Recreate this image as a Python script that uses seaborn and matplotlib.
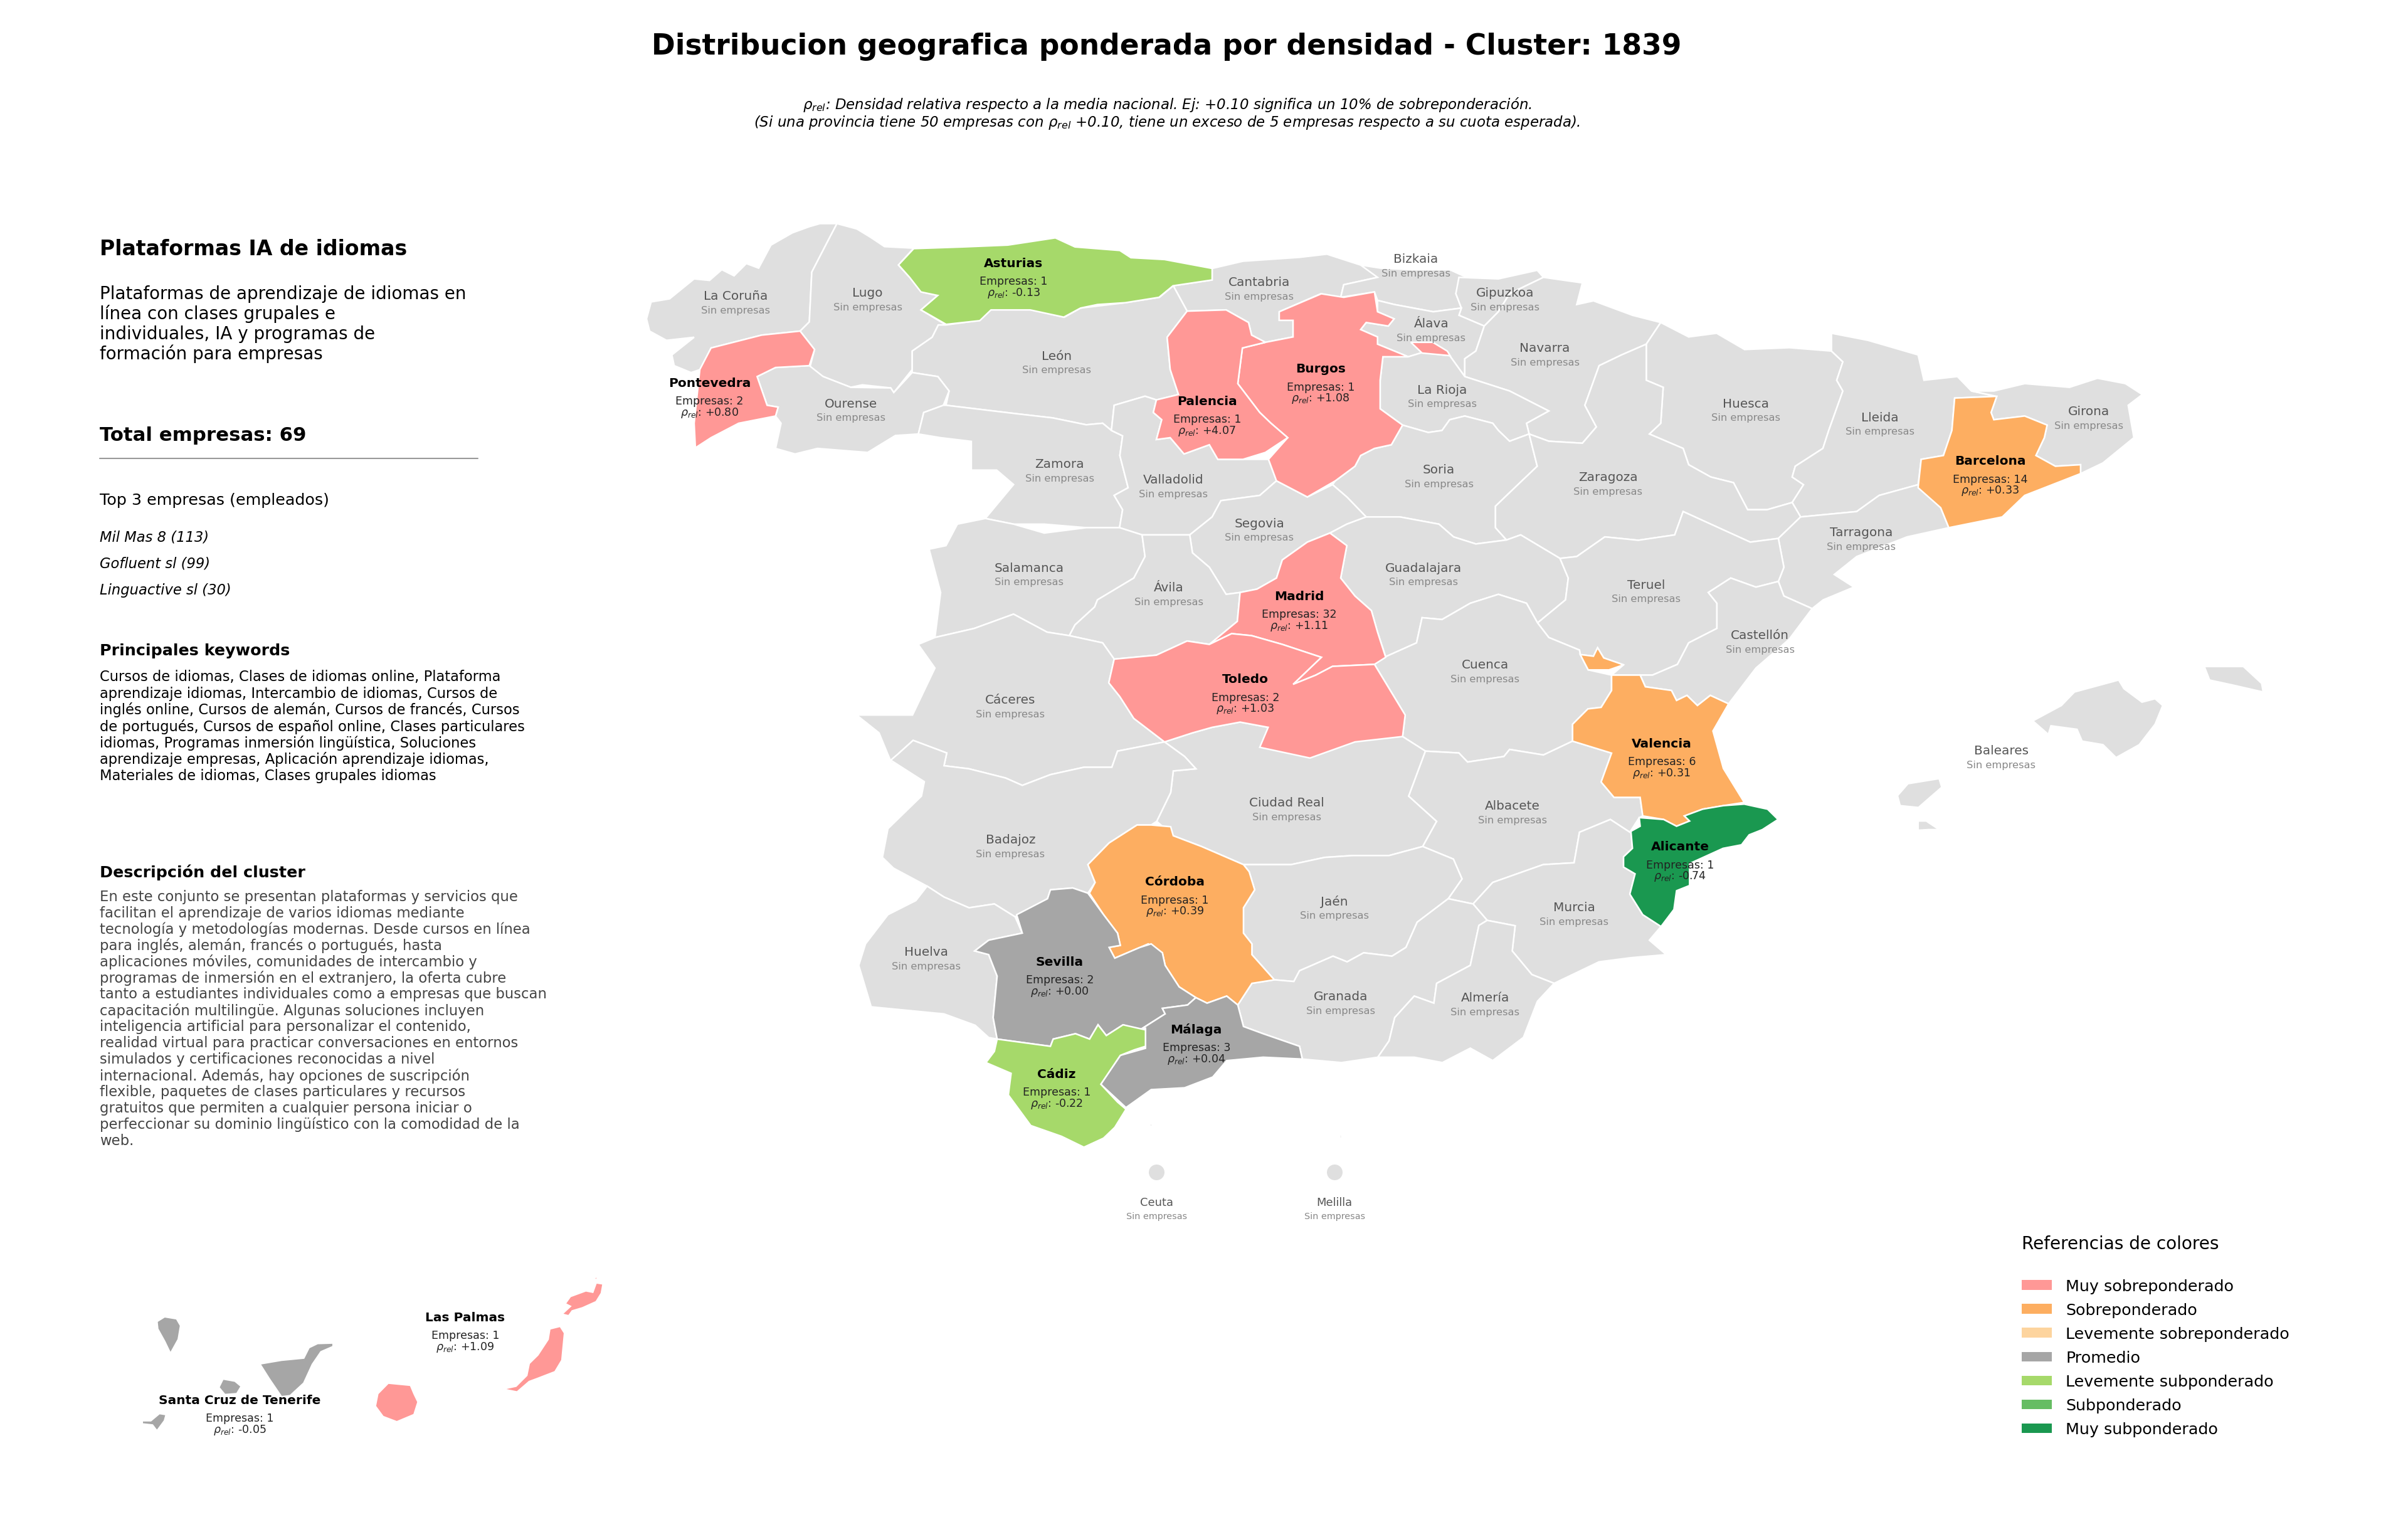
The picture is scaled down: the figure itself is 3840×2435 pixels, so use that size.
import matplotlib
matplotlib.use("Agg")
import matplotlib.pyplot as plt
from matplotlib.patches import Patch
import pandas as pd
import seaborn as sns

# ---------------------------------------------------------------- text
TITLE = "Distribucion geografica ponderada por densidad - Cluster: 1839"
SUBTITLE = [r"$\rho_{rel}$: Densidad relativa respecto a la media nacional. Ej: +0.10 significa un 10% de sobreponderación.",
            r"(Si una provincia tiene 50 empresas con $\rho_{rel}$ +0.10, tiene un exceso de 5 empresas respecto a su cuota esperada)."]
CLUSTER_NAME = "Plataformas IA de idiomas"
CLUSTER_TAG = ["Plataformas de aprendizaje de idiomas en", "línea con clases grupales e",
               "individuales, IA y programas de", "formación para empresas"]
TOTAL = "Total empresas: 69"
TOP_HEAD = "Top 3 empresas (empleados)"
TOP_COMPANIES = ["Mil Mas 8 (113)", "Gofluent sl (99)", "Linguactive sl (30)"]
KEY_HEAD = "Principales keywords"
KEYWORDS = ["Cursos de idiomas, Clases de idiomas online, Plataforma",
            "aprendizaje idiomas, Intercambio de idiomas, Cursos de",
            "inglés online, Cursos de alemán, Cursos de francés, Cursos",
            "de portugués, Cursos de español online, Clases particulares",
            "idiomas, Programas inmersión lingüística, Soluciones",
            "aprendizaje empresas, Aplicación aprendizaje idiomas,",
            "Materiales de idiomas, Clases grupales idiomas"]
DESC_HEAD = "Descripción del cluster"
DESCRIPTION = ["En este conjunto se presentan plataformas y servicios que",
               "facilitan el aprendizaje de varios idiomas mediante",
               "tecnología y metodologías modernas. Desde cursos en línea",
               "para inglés, alemán, francés o portugués, hasta",
               "aplicaciones móviles, comunidades de intercambio y",
               "programas de inmersión en el extranjero, la oferta cubre",
               "tanto a estudiantes individuales como a empresas que buscan",
               "capacitación multilingüe. Algunas soluciones incluyen",
               "inteligencia artificial para personalizar el contenido,",
               "realidad virtual para practicar conversaciones en entornos",
               "simulados y certificaciones reconocidas a nivel",
               "internacional. Además, hay opciones de suscripción",
               "flexible, paquetes de clases particulares y recursos",
               "gratuitos que permiten a cualquier persona iniciar o",
               "perfeccionar su dominio lingüístico con la comodidad de la",
               "web."]

# ---------------------------------------------------------------- categories
CATEGORY_LABELS = ["Muy sobreponderado", "Sobreponderado", "Levemente sobreponderado", "Promedio",
                   "Levemente subponderado", "Subponderado", "Muy subponderado"]
CATEGORY_COLORS = ["#ff9896", "#fdae61", "#fdd49e", "#a6a6a6", "#a6d96a", "#66bd63", "#1a9850"]
LAND_COLOR = "#dfdfdf"
RHO_BINS = [-100, -0.5, -0.25, -0.1, 0.1, 0.25, 0.5, 100]

# ---------------------------------------------------------------- provinces with companies
ACTIVE_NAMES = ["Asturias", "Pontevedra", "Burgos", "Palencia", "Madrid", "Toledo", "Barcelona", "Valencia",
                "Alicante", "Córdoba", "Sevilla", "Málaga", "Cádiz", "Las Palmas", "Santa Cruz de Tenerife"]
ACTIVE_COUNTS = [1, 2, 1, 1, 32, 2, 14, 6, 1, 1, 2, 3, 1, 1, 1]
ACTIVE_RHO = [-0.13, 0.80, 1.08, 4.07, 1.11, 1.03, 0.33, 0.31, -0.74, 0.39, 0.00, 0.04, -0.22, 1.09, -0.05]
ACTIVE_X = [660, 462, 860, 786, 846, 811, 1296, 1082, 1094, 765, 690, 779, 688, 303, 156]
ACTIVE_Y = [171.5, 249.5, 240.5, 261.5, 388.5, 442.5, 300.5, 484.5, 551.5, 574.5, 626.5, 670.5, 699.5, 858, 912]

# ---------------------------------------------------------------- provinces without companies
EMPTY_NAMES = ["La Coruña", "Lugo", "Cantabria", "Bizkaia", "Gipuzkoa", "Álava", "Navarra", "León", "La Rioja",
               "Huesca", "Lleida", "Girona", "Ourense", "Zamora", "Soria", "Zaragoza", "Valladolid", "Segovia",
               "Tarragona", "Salamanca", "Guadalajara", "Ávila", "Teruel", "Castellón", "Cuenca", "Cáceres",
               "Baleares", "Ciudad Real", "Albacete", "Badajoz", "Jaén", "Murcia", "Huelva", "Granada", "Almería",
               "Ceuta", "Melilla"]
EMPTY_X = [479, 565, 820, 922, 980, 932, 1006, 688, 939, 1137, 1224, 1360, 554, 690, 937, 1047, 764, 820,
           1212, 670, 927, 761, 1072, 1146, 967, 658, 1303, 838, 985, 658, 869, 1025, 603, 873, 967, 753, 869]
EMPTY_Y = [193, 191, 184, 169, 191, 211, 227, 232, 254, 263, 272, 268, 263, 302.5, 306, 311, 312.5, 341, 347, 370,
           370, 383, 381, 414, 433, 456, 489, 523, 525, 547, 587, 591, 620, 649, 650, 783, 783]
SMALL_LABELS = ["Ceuta", "Melilla"]

# exclaves drawn as round markers
CITY_NAMES = ["Ceuta", "Melilla"]
CITY_X = [753, 869]
CITY_Y = [763.5, 763.5]

# ---------------------------------------------------------------- outlines
SHAPES = {
 "La Coruña": [[(421,208),(424,197),(436,195),(452,182),(462,183),(470,176),(478,180),(486,172),(494,175),(502,160),(516,152),(527,148),(534,146),(545,146),(539.5,156.5),(528.6,177.6),(527,210),(521,216),(496,218.6),(463,227),(456,241),(450,243),(439,238.5),(437.5,231.5),(452,220),(434,222),(423,216)]],
 "Lugo": [[(545,146),(558,149.5),(567,155),(576,161),(595,162),(585,173),(592.4,181),(600,190.5),(610.6,192.8),(599.7,202.2),(616,212),(611,212),(607,220),(594,229),(594,241),(582,256),(580,253),(561.5,251),(554,252.6),(536,245.6),(527,241),(530.4,228),(521,216),(527,210),(528.6,177.6),(539.5,156.5)]],
 "Ourense": [[(493,245.6),(505,239.7),(527,238.5),(536,245.6),(554,252.6),(580,253),(582,256),(594,243),(610.7,245.6),(618,255),(614.3,264.3),(601.5,269),(598,283),(583,284),(565,295),(532.3,292.4),(517.7,296),(505,292.4),(508.6,276),(505,271.3),(506.7,265.5),(499.5,264.3)]],
 "León": [[(611,212),(616,212),(638,209),(645,202),(671,202),(693,207),(703.6,201),(733,197.5),(755,194),(764,186.5),(773,203),(760,220),(762,241),(767.4,257.3),(753,260.8),(745.6,258.4),(725.5,264.3),(723.7,280.7),(718,276),(707.3,277),(685.4,272.5),(663.5,270),(616,264.3),(618,255),(610.7,245.6),(594,243),(594,229),(607,220)]],
 "Cantabria": [[(789.3,175.2),(809.4,170.5),(846,168),(864,165.9),(886,173),(898.7,175),(897,181),(875,185.8),(873,194),(860,191.7),(833,203.4),(833,209),(842,209),(842,219.8),(824,223.3),(815,218.6),(813,210.4),(798.4,202.2),(773,203),(764,186.5),(789.3,182.7)]],
 "Bizkaia": [[(886,173),(899,175),(919,176),(944,176),(955,181),(948,191.6),(951.6,201),(933.3,203.4),(908,198.7),(897,196),(895,190.5),(873,194),(875,185.8),(897,181)]],
 "Gipuzkoa": [[(950,181),(975.7,182),(1001,176.4),(1005,181),(983,191.6),(975.7,203.4),(966.5,212.7),(950,205.7),(951.6,201),(948,191.6)]],
 "Álava": [[(897,196),(908,198.7),(933.3,203.4),(951.6,201),(950,205.7),(966.5,212.7),(961,229),(953.8,234),(953.8,245.6),(944,232),(926,230),(917,232.7),(897,224.5),(897,219.8),(886,215),(889.6,210.4),(904,212.7),(907.8,208),(897,203.4)]],
 "La Rioja": [[(900.5,232.7),(917,232.7),(926,230),(944,232),(953.8,245.6),(983,255),(1008.5,268),(994,276),(995.7,283),(983,287.7),(975.7,280.7),(972,276),(953.8,271.3),(944,273.7),(939,280.7),(930,282),(913.3,277.2),(898.7,266.6),(898.7,248)]],
 "Navarra": [[(1005,181),(1030.4,184.6),(1026.7,198.7),(1037.6,196.3),(1063,205.7),(1081.4,210.4),(1072,224.5),(1055.9,231.5),(1041.3,238.5),(1032,264.3),(1039.5,278.4),(1030.4,289),(1008.5,287.7),(995.7,283),(994,276),(1008.5,268),(983,255),(953.8,245.6),(953.8,234),(961,229),(966.5,212.7),(975.7,203.4),(983,191.6)]],
 "Huesca": [[(1081.4,210.4),(1099.6,219.8),(1117.8,217.4),(1136,228),(1165.2,226.8),(1192.6,229),(1200,236),(1196,248),(1200,255),(1190.8,280.7),(1187,292.4),(1169,304),(1167,311),(1174.4,316),(1167,327.6),(1150.7,332.3),(1138,332.3),(1128.8,314.7),(1114,311),(1099.6,303),(1096,292.4),(1074,283),(1081.4,276),(1083,252.6),(1072,248),(1072,224.5)]],
 "Lleida": [[(1192.6,217.4),(1216.3,222),(1249,231.5),(1252.8,248),(1274.6,245.6),(1283.7,255),(1300,258.5),(1272.8,259.6),(1271,280.7),(1265.5,297),(1251,299.5),(1249,316),(1223.6,323),(1209,333.5),(1172.5,337),(1167,327.6),(1174.4,316),(1167,311),(1169,304),(1187,292.4),(1190.8,280.7),(1200,255),(1196,248),(1200,236),(1192.6,229)]],
 "Girona": [[(1283.7,255),(1298.3,255),(1318.4,250.2),(1347.6,252.6),(1365.8,246.7),(1384,250.2),(1395,257.3),(1385.8,264.3),(1389.5,285.4),(1369.4,301.8),(1354.8,308.8),(1354.8,303),(1338.4,304),(1325.7,297),(1331.2,285.4),(1333,277.2),(1318.4,271.3),(1298.3,273.7),(1296.5,269),(1300.2,258.5)]],
 "Zaragoza": [[(1030.4,289),(1039.5,278.4),(1032,264.3),(1041.3,238.5),(1055.9,231.5),(1072,224.5),(1072,248),(1083,252.6),(1081.4,276),(1074,283),(1096,292.4),(1099.6,303),(1114,311),(1128.8,314.7),(1138,332.3),(1150.7,332.3),(1167,327.6),(1172.5,337),(1158,351),(1139.7,353.4),(1114,341.7),(1096,333.5),(1090.5,348.7),(1066.8,352.2),(1045,350),(1026.7,362.8),(1015.8,364),(990.2,348.7),(981,352),(973.8,344),(973.8,330),(988.4,316),(1001,304),(995.7,283),(1008.5,287.7)]],
 "Soria": [[(913.3,277.2),(930,282),(939,280.7),(944,273.7),(953.8,271.3),(972,276),(975.7,280.7),(983,287.7),(995.7,283),(1001,304),(988.4,316),(973.8,330),(973.8,344),(981,352),(961,354.6),(946.5,350),(937,341.7),(911.5,337),(889.6,337),(877,324),(867.7,316),(869.5,313.5),(882.3,304),(886,297),(895,292.4),(906,290)]],
 "Valladolid": [[(725.5,264.3),(745.6,258.4),(753,260.8),(751,269),(756.5,273.7),(753,286.6),(762,285.4),(771,296),(787.5,290),(793,299.5),(809.4,299.5),(826,299.5),(831.2,313.5),(820.3,323),(795,326.4),(789.3,337),(774.7,348.7),(743.7,348.7),(729,344),(731,332.3),(725.5,323),(734.6,318),(729.2,297),(731,284.2),(723.7,280.7)]],
 "Zamora": [[(616,264.3),(663.5,270),(685.4,272.5),(707.3,277),(718,276),(723.7,280.7),(731,284.2),(729.2,297),(734.6,318),(725.5,323),(731,332.3),(729,344),(707.3,344),(680,341.7),(660,341.7),(641.6,338),(660,315.9),(649,306.5),(632.5,306.5),(632.5,287.8),(612.5,285.4),(598,283),(601.5,269),(614.3,264.3)]],
 "Salamanca": [[(641.6,338),(660,341.7),(680,347.5),(707.3,344),(729,344),(743.7,348.7),(745.6,362.8),(738.3,376.8),(714.6,391),(712.8,395.6),(700,407.3),(696.3,414.3),(681.8,412),(660,400.3),(634.4,409.6),(608.8,415.5),(612.5,386.2),(605,358),(616,355.7),(623.4,341.7)]],
 "Ávila": [[(743.7,348.7),(774.7,348.7),(776.5,360.4),(787.5,369.8),(798.4,387.4),(807.5,386.2),(805.7,405),(787.5,420),(773,417.8),(753,427),(725.5,429.6),(718,419),(696.3,414.3),(700,407.3),(712.8,395.6),(714.6,391),(738.3,376.8),(745.6,362.8)]],
 "Segovia": [[(774.7,348.7),(789.3,337),(795,326.4),(820.3,323),(831.2,313.5),(851.3,324),(867.7,316),(877,324),(889.6,337),(877,341.7),(866,347.5),(851.3,353.4),(835,365),(831.2,376.8),(818.5,384),(807.5,386.2),(798.4,387.4),(787.5,369.8),(776.5,360.4)]],
 "Guadalajara": [[(889.6,337),(911.5,337),(937,341.7),(946.5,350),(961,354.6),(981,352),(990.2,348.7),(1015.8,364),(1021.2,376.8),(1019.4,391),(1001.2,406),(994,393.2),(975.7,387.4),(957.4,393.2),(939,403.8),(926,402.6),(922.4,419),(902.3,428),(897,412),(893,398),(882.3,388.5),(873,376.8),(877,355.7),(866,347.5),(877,341.7)]],
 "Teruel": [[(1015.8,364),(1026.7,362.8),(1045,350),(1066.8,352.2),(1090.5,348.7),(1096,333.5),(1114,341.7),(1139.7,353.4),(1158,351),(1161.6,369.8),(1158,379),(1143.4,382.7),(1127,376.8),(1112.4,386.2),(1118,393.2),(1118,409.6),(1099.6,419),(1092.3,433),(1076,440),(1068,440),(1049.4,440),(1057.2,433.3),(1044.3,428.8),(1040.3,422.2),(1037.6,427.7),(1029,426.6),(1028.5,423.7),(1008.5,415.5),(1001.2,406),(1019.4,391),(1021.2,376.8)]],
 "Tarragona": [[(1172.5,337),(1209,333.5),(1223.6,323),(1249,316),(1263.7,331),(1269,344),(1241.8,350),(1209,362.8),(1194.4,374.5),(1207.2,382.7),(1187.2,391),(1180,396.7),(1161.6,388.5),(1158,379),(1161.6,369.8),(1158,351)]],
 "Castellón": [[(1158,379),(1161.6,388.5),(1180,396.7),(1165,416.7),(1143.4,435.4),(1125.6,458.7),(1113.7,453.2),(1105.3,459.8),(1098.5,453.2),(1091.7,456.5),(1088.4,450),(1071.4,447.6),(1068,440),(1076,440),(1092.3,433),(1099.6,419),(1118,409.6),(1118,393.2),(1112.4,386.2),(1127,376.8),(1143.4,382.7)]],
 "Cuenca": [[(902.3,428),(922.4,419),(926,402.6),(939,403.8),(957.4,393.2),(975.7,387.4),(994,393.2),(1001.2,406),(1008.5,415.5),(1028.5,423.7),(1029,426.6),(1034.2,436.6),(1049.4,440),(1049.4,450),(1042.6,461),(1034,462),(1024,472),(1024,483),(1005,492),(983,488.4),(979.3,493),(955.6,496.6),(950,490.7),(928.2,489.5),(913.3,480),(915,466),(895,433)]],
 "Cáceres": [[(608.8,415.5),(634.4,409.6),(660,400.3),(681.8,412),(696.3,414.3),(718,419),(725.5,429.6),(722,445),(729.2,454),(738.3,468.2),(758.3,483.5),(727.7,489.5),(724,500),(705.8,500),(684,504.8),(665.7,511.8),(654.8,507),(631,501),(614.7,499),(616.5,490.7),(594.6,482.5),(585.5,490.7),(580.8,498),(572.4,477.6),(557.8,466),(594.2,466),(608.8,435.4),(597.9,420)]],
 "Badajoz": [[(603.7,577.4),(614.7,584.5),(631,591.5),(647.5,589),(661,597.4),(682.1,585.6),(684,579.8),(698.5,578.6),(708.4,582),(713.1,575),(708.4,563.4),(722.2,549.3),(740.4,537.6),(749.6,537.6),(753.2,535.2),(762.3,516.5),(764,502.4),(778.7,501),(771.4,493),(758.3,483.5),(727.7,489.5),(724,500),(705.8,500),(684,504.8),(665.7,511.8),(654.8,507),(631,501),(614.7,499),(616.5,490.7),(594.6,482.5),(585.5,490.7),(580,495.4),(601.9,509.4),(600,518.8),(578.2,540),(574.6,558.7),(581.8,565.7)]],
 "Ciudad Real": [[(913.3,480),(895,476.6),(873.5,486),(851.7,493),(822.5,486),(825.8,474),(807.5,470.6),(789.3,474),(776.5,477.6),(758.3,483.5),(771.4,493),(778.7,501),(764,502.4),(762.3,516.5),(753.2,535.2),(764,544.6),(782.4,551.6),(809.7,563.4),(840.7,563.4),(862.6,558.7),(880.8,557.5),(904.5,557.5),(926.4,551.6),(935.5,535.2),(917.3,518.8),(928.2,489.5)]],
 "Albacete": [[(928.2,489.5),(950,490.7),(955.6,496.6),(979.3,493),(983,488.4),(1005,492),(1024,483),(1049.4,490.8),(1042.6,509.6),(1051,519.6),(1068,519.6),(1069.7,531.7),(1067.4,532.8),(1061.3,542.3),(1048.6,534),(1028.5,542.3),(1025,562.2),(1004.8,563.4),(972,575),(959.2,589),(943,585.6),(952,572.7),(946.4,559.8),(926.4,551.6),(935.5,535.2),(917.3,518.8)]],
 "Murcia": [[(1062,541.7),(1061.3,542.3),(1048.6,534),(1028.5,542.3),(1025,562.2),(1004.8,563.4),(972,575),(959.2,589),(968.4,599.7),(986.6,603.2),(984.7,619.6),(997.5,635),(1012,640.7),(1041.2,626.7),(1062,624),(1085,622),(1074,612.6),(1081.6,603.7),(1069.7,596),(1061.3,582.6),(1064.7,569.4),(1057.2,565),(1057.2,558.3),(1063,552.8)]],
 "Jaén": [[(809.7,563.4),(840.7,563.4),(862.6,558.7),(880.8,557.5),(904.5,557.5),(926.4,551.6),(946.4,559.8),(952,572.7),(943,585.6),(922.8,600.9),(915.5,617.3),(906.4,623),(888,620.8),(877.2,626.7),(868,623),(846.2,632.5),(842.5,639.5),(829.8,638.4),(815.2,622),(815.2,615),(809.7,608),(809.7,591.5),(817,579.8),(813.4,568)]],
 "Granada": [[(829.8,638.4),(842.5,639.5),(846.2,632.5),(868,623),(877.2,626.7),(888,620.8),(906.4,623),(915.5,617.3),(922.8,600.9),(943,585.6),(959.2,589),(968.4,599.7),(963,603),(957.4,629),(935.5,640.7),(933.7,653.6),(920.9,649),(908.2,663),(904.5,678.2),(897.2,688.8),(873.5,692.3),(848,690),(846.2,681.7),(822.5,673.5),(809.7,668.8),(806,654.8),(815.2,640.7)]],
 "Almería": [[(968.4,599.7),(986.6,603.2),(984.7,619.6),(997.5,635),(1012,640.7),(1001.1,652.4),(992,675.9),(972,691),(957.4,682.9),(939.2,692.3),(920.9,688.8),(897.2,688.8),(904.5,678.2),(908.2,663),(920.9,649),(933.7,653.6),(935.5,640.7),(957.4,629),(963,603)]],
 "Huelva": [[(603.7,577.4),(614.7,584.5),(631,591.5),(647.5,589),(661,597.4),(665.7,608),(643.8,612.6),(634.7,619.6),(643.8,622),(649.3,636),(646.7,663),(649.3,677),(643.8,676),(635,668),(614.7,660.6),(567.3,656),(559.2,629),(563.6,615),(578.2,596),(596.4,586.8)]],
 "Baleares": [[(1323.7,469.8),(1342.3,459.8),(1350.8,451),(1379.6,443.2),(1383,448.8),(1394.8,457.6),(1403.3,455.4),(1408.3,459.8),(1403.3,472),(1393,485.3),(1377.9,493.7),(1369.4,485.3),(1355.8,483),(1352.5,475.3),(1335.5,473),(1333.8,478.6)],
              [(1435.4,434.4),(1460.8,434.4),(1472.7,445.4),(1473.7,451),(1454,446.5),(1438.8,443.2)],
              [(1235.6,518.5),(1242.4,510.7),(1262.7,507.4),(1264.4,513),(1249.2,526.2),(1237.3,525)],
              [(1249,535),(1254.3,535),(1262.7,540.6),(1256,540.6),(1249,541)]],
 "Ceuta": [[(748.5,732),(750.5,732.5),(750,734),(748.8,733.5)]],
 "Melilla": [[(872,739),(873.5,739),(873.5,741.5),(872,741.5)]],
 "Asturias": [[(585.1,172.9),(595,162.3),(627,161.2),(656.2,160),(687.2,155.3),(700,161.2),(729.2,163.5),(736.4,168.2),(758.3,169.4),(789.3,175.2),(789.3,182.7),(763.8,186.5),(754.7,194),(732.8,197.5),(714.6,198.7),(703.6,201),(692.7,206.9),(670.8,202.2),(645.3,202.2),(638,209.2),(616.1,211.6),(599.7,202.2),(610.6,192.8),(599.7,190.5),(592.4,181.1)]],
 "Pontevedra": [[(496,218.6),(521,216),(530.4,228),(527,238.5),(505,239.7),(493,245.6),(499.5,264.3),(506.7,265.5),(505,271.3),(481,276),(463,285.4),(452.8,292),(452,276),(455.7,241),(463,227)]],
 "Palencia": [[(773,203),(798.4,202.2),(813,210.4),(815,218.6),(824,223.3),(809,227),(806,250.2),(820.3,269),(827.6,276),(838.5,285.4),(824,295),(809.4,299.5),(793,299.5),(787.5,290),(771,296),(762,285.4),(753,286.6),(756.5,273.7),(751,269),(753,260.8),(767.4,257.3),(762,241),(760,220)]],
 "Burgos": [[(833,203.4),(860.4,191.7),(875,194),(895,190.5),(897,203.4),(907.8,208),(904,212.7),(889.6,210.4),(886,215),(897,219.8),(897,224.5),(917,232.7),(900.5,232.7),(898.7,248),(898.7,266.6),(913.3,277.2),(906,290),(895,292.4),(886,297),(882.3,304),(869.5,313.5),(851.3,324),(831.2,313.5),(826,299.5),(838.5,285.4),(827.6,276),(820.3,269),(806,250.2),(809,227),(824,223.3),(842,219.8),(842,209),(833,209)],
            [(918.7,223.3),(933,223.3),(942.4,229),(944.3,232),(926,230.3)]],
 "Madrid": [[(866,347.5),(877,355.7),(873,376.8),(882.3,388.5),(893,398),(897,412),(902.3,428.4),(895,433),(867.7,434.3),(856.8,440),(842,446),(860.4,428.4),(835,420),(815,414.3),(802,413),(787.5,420),(805.7,405),(807.5,386.2),(818.5,384),(831.2,376.8),(835,365),(851.3,353.4)]],
 "Toledo": [[(725.5,429.6),(753,427),(773,417.8),(787.5,420),(802,413),(815,414.3),(835,420),(860.4,428.4),(842,446),(856.8,440),(867.7,434.3),(895,433),(915,466),(913.3,480),(882.3,483.5),(853,494),(820.3,487),(825.8,474),(807.5,470.6),(789.3,474),(776.5,477.6),(758.3,483.5),(738.3,468.2),(729.2,454),(722,445)]],
 "Barcelona": [[(1272.8,259.6),(1300.2,258.5),(1296.5,269),(1298.3,273.7),(1318.4,271.3),(1333,277.2),(1331.2,285.4),(1325.7,297),(1338.4,304),(1354.8,303),(1354.8,308.8),(1318.4,323),(1303.8,337),(1269,344),(1263.7,331),(1249,318),(1251,299.5),(1265.5,297),(1271,280.7)]],
 "Valencia": [[(1049.4,440),(1068,440),(1071.4,447.6),(1088.4,450),(1091.7,456.5),(1098.5,453.2),(1105.3,459.8),(1113.7,453.2),(1125.6,458.7),(1115.4,476.4),(1122.2,500.8),(1135.8,522.9),(1122.2,525),(1108.7,527.3),(1096.8,531.7),(1100.2,535),(1091.7,538.4),(1083.3,534),(1069.7,531.7),(1068,519.6),(1051,519.6),(1042.6,509.6),(1049.4,490.8),(1024,483),(1024,472),(1034,462),(1042.6,461),(1049.4,450)],
              [(1029,426.6),(1037.6,427.7),(1040.3,422.2),(1044.3,428.8),(1057.2,433.3),(1047.7,436.6),(1034.2,436.6)]],
 "Alicante": [[(1067.4,532.8),(1083.3,534),(1091.7,538.4),(1100.2,535),(1096.8,531.7),(1108.7,527.3),(1122.2,525),(1135.8,524),(1151,527.3),(1157.8,534),(1147.6,540.6),(1139,544),(1134,550.5),(1122,552.8),(1100.2,562.7),(1100.2,577),(1091.7,580.4),(1090,592.6),(1081.6,603.7),(1069.7,596),(1061.3,582.6),(1064.7,569.4),(1057.2,565),(1057.2,558.3),(1063,552.8),(1062,541.7),(1068,538.4)]],
 "Córdoba": [[(740.4,537.6),(749.6,537.6),(762.3,538.7),(764,544.6),(782.4,551.6),(809.7,563.4),(813.4,568),(817,579.8),(809.7,591.5),(809.7,608),(815.2,615),(815.2,622),(829.8,638.4),(815.2,640.7),(806,654.8),(798.8,649),(786,653.6),(778.7,650),(767.8,643),(758.7,629),(756.9,620.8),(747.7,615),(742.3,617.3),(725.9,624.3),(722.2,617.3),(729.5,616),(727.7,608),(718.6,596),(709.4,582),(713.1,575),(708.4,563.4),(722.2,549.3)]],
 "Sevilla": [[(698.5,578.6),(708.4,582),(718.6,596),(727.7,608),(729.5,616),(722.2,617.3),(725.9,624.3),(742.3,617.3),(749.6,615),(756.9,620.8),(758.7,629),(767.8,643),(778.7,650),(773.3,654.8),(756.9,657),(758.7,660.6),(742.3,671),(731.3,667.7),(720.4,674.7),(715,667.7),(709.5,677),(700.3,673.5),(685.8,677),(684,681.7),(649.3,677),(646.7,663),(649.3,636),(643.8,622),(634.7,619.6),(643.8,612.6),(665.7,608),(662,596),(682.1,585.6),(684,579.8)]],
 "Málaga": [[(778.7,650),(786,653.6),(798.8,649),(806,654.8),(809.7,668.8),(822.5,673.5),(846.2,681.7),(848,690),(822.5,688.8),(798.8,691),(789.7,701.7),(771.4,708.7),(749.6,709.9),(733.2,721.6),(716.8,706.4),(729.5,687.6),(745.9,683),(745.9,670),(742.3,671),(758.7,660.6),(756.9,657),(773.3,654.8)]],
 "Cádiz": [[(649.3,677),(684,681.7),(685.8,677),(700.3,673.5),(709.5,677),(715,667.7),(720.4,674.7),(731.3,667.7),(745.9,671),(745.9,681.7),(738.6,684),(729.5,687.6),(716.8,706.4),(727.7,718),(733.2,722.7),(725.9,734.5),(718.6,741.5),(705.8,747.4),(691.2,740.3),(671.2,733.3),(656.6,713.4),(658.4,699.3),(642,692.3),(647.5,685)]],
 "Santa Cruz de Tenerife": [[(107.2,857.8),(115,859.1),(117.6,863.6),(116.1,872.5),(111,881.7),(107.2,873.8),(102.7,865.7),(102.2,860.9)],
              [(169.2,888.5),(183.3,886.1),(197.8,884.7),(201.2,877.9),(206.8,875.2),(216.9,874.9),(216.9,877.2),(209,880.6),(203.4,888.8),(197.8,901),(188.9,909.2),(183.3,909.9),(175.4,898.3)],
              [(145.2,898.3),(153,899.7),(157.1,903.1),(154.2,907.9),(146.4,908.5),(142.5,903.8)],
              [(103.8,920.8),(108.2,921.5),(107.1,925.5),(102.2,932.1),(99.3,928.3),(92.6,927.6),(92.6,925.5),(98.2,925.5)]],
 "Las Palmas": [[(252.8,901),(267.3,902.4),(269.6,907.9),(272.2,913.3),(269.6,921.5),(258.4,926.2),(249.4,922.8),(244.4,916),(246,907.9)],
              [(358,865.7),(364.8,864),(367.6,868.4),(365.9,886.1),(361.4,893.6),(350,898),(344.6,900),(336.7,906.8),(327.3,904.9),(336,903),(343,896),(344.6,888.2),(350.2,882.7),(356.9,872.5)],
              [(365.9,856.1),(371.4,851),(368,849.3),(371.4,844.6),(381.5,840.9),(386,841.8),(388.2,835.7),(392.7,836.4),(391.6,842.5),(388.2,848),(379.3,852),(372.6,854),(370.3,857.2)],
              [(387,832.3),(389.3,831.6),(388.2,834.4)]],
}

# ---------------------------------------------------------------- build
sns.set_theme(style="white", rc={"font.family": ["DejaVu Sans"], "mathtext.fontset": "dejavusans", "text.color": "black"})
palette = sns.color_palette(CATEGORY_COLORS)

active = pd.DataFrame({"name": ACTIVE_NAMES, "count": ACTIVE_COUNTS, "rho": ACTIVE_RHO, "x": ACTIVE_X, "y": ACTIVE_Y})
active["category"] = pd.cut(active["rho"], RHO_BINS, labels=CATEGORY_LABELS[::-1], right=False)
empty = pd.DataFrame({"name": EMPTY_NAMES, "x": EMPTY_X, "y": EMPTY_Y})
cities = pd.DataFrame({"name": CITY_NAMES, "x": CITY_X, "y": CITY_Y})
color_of = dict(zip(CATEGORY_LABELS, palette))

fig = plt.figure(figsize=(12.8, 8.12), dpi=300, facecolor="white")
ax = fig.add_axes([0, 0, 1, 1])
ax.set_xlim(0, 1568)
ax.set_ylim(994.7, 0)
ax.set_axis_off()

EDGE = 0.6
for name in empty["name"]:
    for ring in SHAPES[name]:
        xs, ys = zip(*ring)
        ax.fill(xs, ys, facecolor=LAND_COLOR, edgecolor="white", linewidth=EDGE, zorder=2)
for _, row in active.iterrows():
    for ring in SHAPES[row["name"]]:
        xs, ys = zip(*ring)
        ax.fill(xs, ys, facecolor=color_of[row["category"]], edgecolor="white", linewidth=EDGE, zorder=3)

sns.scatterplot(data=cities, x="x", y="y", ax=ax, s=36, color=LAND_COLOR, linewidth=0, legend=False, zorder=2)
ax.set_xlim(0, 1568)
ax.set_ylim(994.7, 0)
ax.set_axis_off()

# labels
for _, r in empty.iterrows():
    small = r["name"] in SMALL_LABELS
    ax.text(r["x"], r["y"], r["name"], ha="center", va="center", fontsize=4.3 if small else 4.8, color="#555555", zorder=5)
    ax.text(r["x"], r["y"] + 9.3, "Sin empresas", ha="center", va="center", fontsize=3.45 if small else 3.9,
            color="#888888", zorder=5)
for _, r in active.iterrows():
    ax.text(r["x"], r["y"], r["name"], ha="center", va="center", fontsize=4.85, fontweight="bold", color="black", zorder=5)
    ax.text(r["x"], r["y"] + 11.8, f"Empresas: {r['count']}", ha="center", va="center", fontsize=4.2, color="#222222", zorder=5)
    ax.text(r["x"], r["y"] + 19.2, rf"$\rho_{{rel}}$: {r['rho']:+.2f}", ha="center", va="center", fontsize=4.2, color="#222222", zorder=5)

# header
ax.text(759.5, 30.5, TITLE, ha="center", va="center", fontsize=10.93, fontweight="bold", color="black")
for yy, line in zip((68, 80), SUBTITLE):
    ax.text(760, yy, line, ha="center", va="center", fontsize=5.49, style="italic", color="black")

# left panel
LEFT = 65
ax.text(LEFT, 162.5, CLUSTER_NAME, ha="left", va="center", fontsize=7.96, fontweight="bold", color="black")
for i, line in enumerate(CLUSTER_TAG):
    ax.text(LEFT, 191.5 + i * 13, line, ha="left", va="center", fontsize=6.66, color="black")
ax.text(LEFT, 283.5, TOTAL, ha="left", va="center", fontsize=7.4, fontweight="bold", color="black")
ax.plot([LEFT, 311], [299, 299], color="#999999", linewidth=0.5)
ax.text(LEFT, 326, TOP_HEAD, ha="left", va="center", fontsize=6.1, color="black")
for i, line in enumerate(TOP_COMPANIES):
    ax.text(LEFT, 350 + i * 17.2, line, ha="left", va="center", fontsize=5.45, style="italic", color="black")
ax.text(LEFT, 424, KEY_HEAD, ha="left", va="center", fontsize=6.1, fontweight="bold", color="black")
for i, line in enumerate(KEYWORDS):
    ax.text(LEFT, 441 + i * 10.7, line, ha="left", va="center", fontsize=5.45, color="black")
ax.text(LEFT, 568, DESC_HEAD, ha="left", va="center", fontsize=6.1, fontweight="bold", color="black")
for i, line in enumerate(DESCRIPTION):
    ax.text(LEFT, 584 + i * 10.6, line, ha="left", va="center", fontsize=5.47, color="#444444")

# legend
handles = [Patch(facecolor=c, edgecolor="none", label=l) for c, l in zip(palette, CATEGORY_LABELS)]
leg = ax.legend(handles=handles, title="Referencias de colores", loc="upper left",
                bbox_to_anchor=(1316.5 / 1568, 1 - 804.5 / 994.7), frameon=False, fontsize=6.08,
                title_fontsize=6.7, alignment="left", labelspacing=0.556, handlelength=1.9,
                handleheight=0.55, handletextpad=0.86, borderaxespad=0, borderpad=0, labelcolor="black")
leg.get_title().set_color("black")
leg._legend_box.sep = 10

sns.despine(ax=ax, left=True, bottom=True)
fig.savefig("out.png", dpi=300, facecolor="white")
